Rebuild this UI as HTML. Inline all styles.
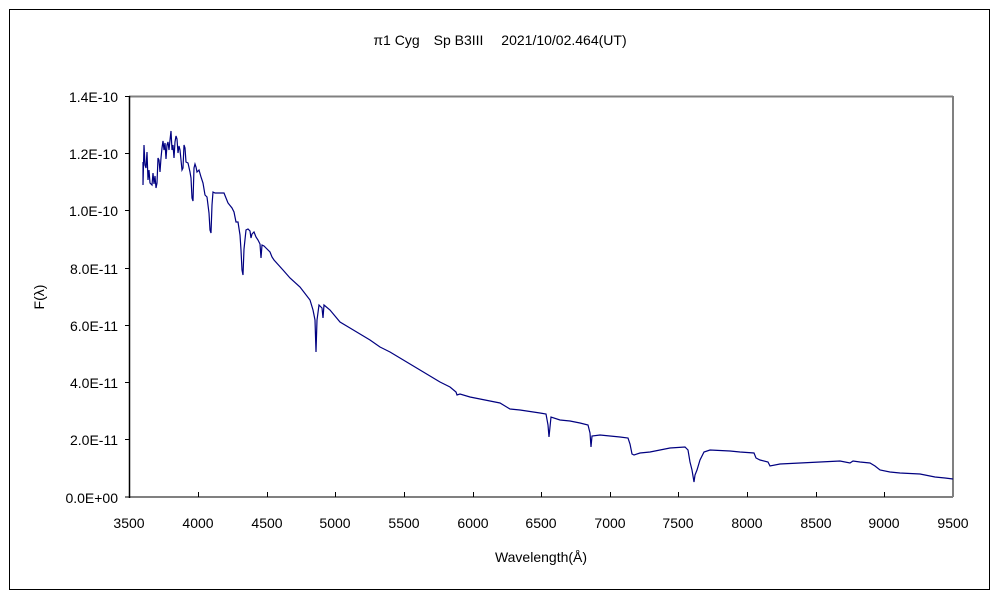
<!DOCTYPE html>
<html><head><meta charset="utf-8"><style>
body{margin:0;background:#fff;}
svg{display:block;font-family:"Liberation Sans","Noto Sans CJK JP",sans-serif;}
</style></head><body>
<svg width="1000" height="600" viewBox="0 0 1000 600" xmlns="http://www.w3.org/2000/svg">
<rect x="0" y="0" width="1000" height="600" fill="#fff"/>
<rect x="9.5" y="9.5" width="980" height="580" fill="none" stroke="#000" stroke-width="1"/>
<text x="500" y="45" font-size="14" text-anchor="middle">π1 Cyg　Sp B3III　 2021/10/02.464(UT)</text>
<line x1="129" y1="96.5" x2="953" y2="96.5" stroke="#808080" stroke-width="2"/>
<line x1="953" y1="96" x2="953" y2="497" stroke="#808080" stroke-width="2"/>
<line x1="129" y1="497" x2="953" y2="497" stroke="#808080" stroke-width="2"/>
<line x1="129.5" y1="96" x2="129.5" y2="498" stroke="#000" stroke-width="1.5"/>
<g stroke="#000" stroke-width="1">
<line x1="125" y1="96.5" x2="129" y2="96.5"/><line x1="125" y1="153.5" x2="129" y2="153.5"/>
<line x1="125" y1="210.5" x2="129" y2="210.5"/><line x1="125" y1="268.5" x2="129" y2="268.5"/>
<line x1="125" y1="325.5" x2="129" y2="325.5"/><line x1="125" y1="382.5" x2="129" y2="382.5"/>
<line x1="125" y1="439.5" x2="129" y2="439.5"/><line x1="125" y1="497" x2="129" y2="497"/>
<line x1="198.5" y1="492" x2="198.5" y2="497"/><line x1="267.5" y1="492" x2="267.5" y2="497"/>
<line x1="335.5" y1="492" x2="335.5" y2="497"/><line x1="404.5" y1="492" x2="404.5" y2="497"/>
<line x1="473.5" y1="492" x2="473.5" y2="497"/><line x1="541.5" y1="492" x2="541.5" y2="497"/>
<line x1="610.5" y1="492" x2="610.5" y2="497"/><line x1="678.5" y1="492" x2="678.5" y2="497"/>
<line x1="747.5" y1="492" x2="747.5" y2="497"/><line x1="816.5" y1="492" x2="816.5" y2="497"/>
<line x1="884.5" y1="492" x2="884.5" y2="497"/>
</g>
<g font-size="14" text-anchor="end">
<text x="118" y="102">1.4E-10</text><text x="118" y="159">1.2E-10</text>
<text x="118" y="216">1.0E-10</text><text x="118" y="274">8.0E-11</text>
<text x="118" y="331">6.0E-11</text><text x="118" y="388">4.0E-11</text>
<text x="118" y="445">2.0E-11</text><text x="118" y="503">0.0E+00</text>
</g>
<g font-size="14" text-anchor="middle">
<text x="129" y="528">3500</text><text x="198" y="528">4000</text><text x="267" y="528">4500</text>
<text x="335" y="528">5000</text><text x="404" y="528">5500</text><text x="473" y="528">6000</text>
<text x="541" y="528">6500</text><text x="610" y="528">7000</text><text x="678" y="528">7500</text>
<text x="747" y="528">8000</text><text x="816" y="528">8500</text><text x="884" y="528">9000</text>
<text x="953" y="528">9500</text>
<text x="541" y="562">Wavelength(Å)</text>
<text x="0" y="0" transform="translate(44,297) rotate(-90)">F(λ)</text>
</g>
<polyline fill="none" stroke="#000080" stroke-width="1.2" points="143,162 143,185 144,145 145,165 146,168 147,152 148,180 149,170 150,183 152,185 153,173 154,184 155,176 156,188 157,183 158,158 159,160 160,172 161,158 162,148 163,141 164,150 165,143 166,159 167,145 168,142 169,150 170,140 171,131 172,150 173,145 174,158 175,142 176,136 177,139 178,153 179,146 180,150 181,160 182,170 183,168 184,145 185,148 186,162 188,163 190,172 191,178 192,198 193,201 194,168 195,164 196,167 197,172 199,170 201,177 203,183 205,195 207,197 209,213 210,230 211,233 212,205 213,192 215,193 224,193 226,198 228,203 232,208 234,212 236,222 238,222 240,235 241,250 242,270 243,275 244,249 246,230 248,229 250,231 251,238 252,234 254,232 256,237 258,240 260,244 261,258 262,245 264,246 266,248 270,252 272,257 274,260 283,270 290,278 300,287 310,300 313,310 315,320 316,352 317,320 319,305 322,308 323,318 324,305 330,310 340,322 350,328 360,334 370,340 380,347 390,352 400,358 410,364 420,370 430,376 440,382 450,387 456,392 457,395 460,394 470,397 480,399 490,401 500,403 505,406 510,409 520,410 540,413 546,414 548,425 549,437 551,417 560,420 570,421 580,423 588,425 590,433 591,447 592,436 600,435 620,437 628,438 630,444 632,454 634,455 640,453 650,452 670,448 685,447 688,450 690,462 692,470 694,482 695,475 697,470 700,460 704,452 710,450 730,451 740,452 754,453 756,458 760,460 768,462 770,466 780,464 800,463 820,462 840,461 850,463 853,461 860,462 870,463 875,466 880,470 890,472 900,473 920,474 935,477 945,478 953,479"/>
</svg>
</body></html>
